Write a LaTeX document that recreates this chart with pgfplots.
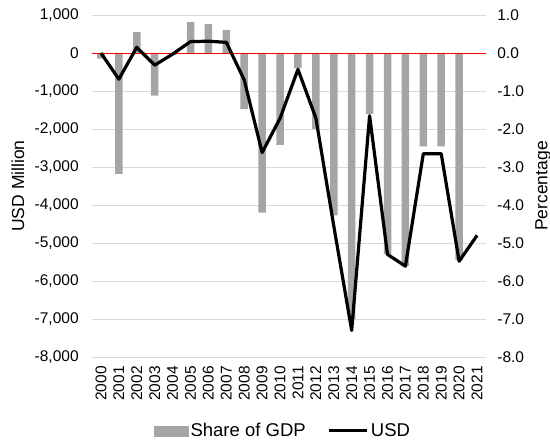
\documentclass[border=0pt]{standalone}
\usepackage{pgfplots}
\pgfplotsset{compat=1.18}
\usepackage{fontspec}
\setmainfont{Liberation Sans}
\definecolor{bargray}{HTML}{A5A5A5}
\definecolor{gridgray}{HTML}{D9D9D9}
\begin{document}
\fontsize{15.5}{18}\selectfont
\begin{tikzpicture}
\pgfplotsset{
  common/.style={
    width=394pt, height=342pt, scale only axis,
    xmin=-0.5, xmax=21.5,
    ymin=-8, ymax=1,
    xtick={0,...,21},
    xticklabels={2000,2001,2002,2003,2004,2005,2006,2007,2008,2009,2010,2011,2012,2013,2014,2015,2016,2017,2018,2019,2020,2021},
    major tick length=0pt,
    axis line style={draw=none},
    /pgf/number format/assume math mode=true,
    tick label style={font=\fontsize{15.5}{18}\selectfont},
  }
}
% Percentage axis (right) with bars
\begin{axis}[common,
  axis x line*=bottom, axis y line*=right,
  ytick={-8,-7,...,1},
  yticklabel style={/tikz/xshift=6pt, /pgf/number format/fixed, /pgf/number format/fixed zerofill, /pgf/number format/precision=1},
  xticklabel style={rotate=90, anchor=east, inner sep=0pt},
  xticklabel shift=9pt,
  ymajorgrids, grid style={gridgray, line width=0.9pt},
  ylabel={Percentage},
  every axis y label/.style={at={(axis description cs:1.145,0.5)}, anchor=center, rotate=90, font=\fontsize{17.5}{20}\selectfont},
]
\coordinate (bl) at (rel axis cs:0,0);
\coordinate (tr) at (rel axis cs:1,1);
\addplot[ybar, bar width=7.5pt, fill=bargray, draw=none] coordinates {
(0,-0.15) (1,-3.18) (2,0.55) (3,-1.12) (4,-0.05) (5,0.81) (6,0.76) (7,0.61)
(8,-1.48) (9,-4.2) (10,-2.42) (11,-0.4) (12,-2.0) (13,-4.27) (14,-7.0)
(15,-1.6) (16,-5.3) (17,-5.6) (18,-2.46) (19,-2.46) (20,-5.45)
};
\draw[red, line width=0.8pt] (axis cs:-0.5,0) -- (axis cs:21.5,0);
\end{axis}
% USD axis (left) with line
\begin{axis}[common,
  ymin=-8000, ymax=1000,
  axis x line*=bottom, axis y line*=left,
  xticklabels={},
  ytick={-8000,-7000,...,1000},
  yticklabel style={/tikz/xshift=-8pt, /pgf/number format/1000 sep={,}},
  ylabel={USD Million},
  every axis y label/.style={at={(axis description cs:-0.188,0.5)}, anchor=center, rotate=90, font=\fontsize{17.5}{20}\selectfont},
  legend style={at={(0.485,-0.216)}, anchor=center, draw=none, fill=none,
    legend columns=2, font=\fontsize{18.5}{21}\selectfont,
    nodes={inner xsep=2pt},
    /tikz/every even column/.append style={column sep=20pt}},
]
\addlegendimage{legend image code/.code={\fill[bargray] (0pt,-5pt) rectangle (34pt,5pt);}}
\addlegendentry{Share of GDP}
\addplot[black, line width=3.2pt, line join=round, mark=none,
  legend image code/.code={\draw[black, line width=3.2pt] (0pt,0pt) -- (38pt,0pt);}] coordinates {
(0,0) (1,-690) (2,150) (3,-320) (4,-30) (5,300) (6,310) (7,280)
(8,-710) (9,-2620) (10,-1720) (11,-430) (12,-1710) (13,-4550) (14,-7300)
(15,-1650) (16,-5300) (17,-5610) (18,-2650) (19,-2650) (20,-5480) (21,-4800)
};
\addlegendentry{USD}
\end{axis}
\pgfresetboundingbox
\path ([xshift=-92pt,yshift=-83pt]bl) rectangle ([xshift=64pt,yshift=15pt]tr);
\end{tikzpicture}
\end{document}
